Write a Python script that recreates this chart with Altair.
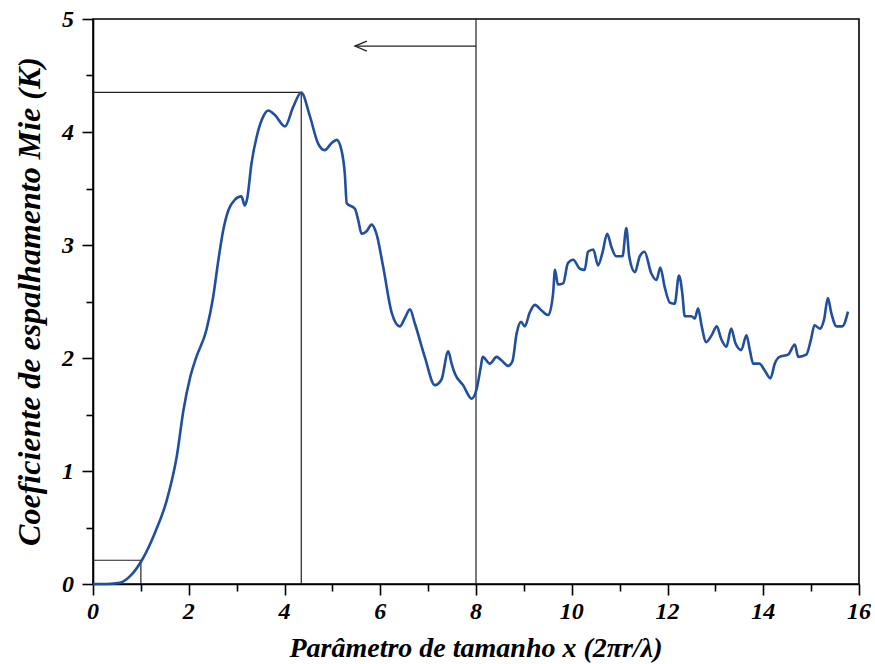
import altair as alt
import pandas as pd

# Curve values
x_vals = [0.0, 0.3, 0.56, 0.8, 1.02, 1.29, 1.54, 1.75, 1.89, 2.03, 2.16, 2.37, 2.51, 2.62,
          2.72, 2.83, 2.96, 3.10, 3.17, 3.22, 3.31, 3.42, 3.56, 3.66, 3.80, 4.01, 4.18, 4.35,
          4.53, 4.70, 4.84, 4.98, 5.09, 5.19, 5.26, 5.30, 5.47, 5.54, 5.61, 5.71, 5.82, 5.92,
          6.06, 6.24, 6.41, 6.51, 6.62, 6.72, 6.93, 7.14, 7.28, 7.42, 7.49, 7.56, 7.73, 7.91,
          8.01, 8.10, 8.14, 8.29, 8.43, 8.53, 8.67, 8.76, 8.85, 8.94, 9.02, 9.12, 9.23, 9.37,
          9.51, 9.61, 9.65, 9.71, 9.82, 9.92, 10.03, 10.17, 10.27, 10.34, 10.45, 10.55, 10.64,
          10.74, 10.83, 10.93, 11.06, 11.14, 11.20, 11.32, 11.42, 11.52, 11.66, 11.77, 11.85,
          11.94, 12.05, 12.15, 12.24, 12.31, 12.36, 12.50, 12.57, 12.64, 12.71, 12.81, 12.92,
          13.03, 13.12, 13.23, 13.33, 13.42, 13.54, 13.65, 13.72, 13.79, 13.92, 14.03, 14.15,
          14.24, 14.34, 14.52, 14.66, 14.73, 14.90, 15.00, 15.07, 15.18, 15.27, 15.35, 15.42,
          15.53, 15.65, 15.77]
k_vals = [0.0, 0.0, 0.01, 0.08, 0.21, 0.45, 0.74, 1.13, 1.54, 1.83, 2.01, 2.25, 2.54, 2.87,
          3.13, 3.31, 3.40, 3.43, 3.35, 3.41, 3.72, 3.96, 4.14, 4.19, 4.15, 4.05, 4.22, 4.35,
          4.14, 3.90, 3.84, 3.90, 3.93, 3.84, 3.63, 3.37, 3.32, 3.22, 3.10, 3.12, 3.18, 3.10,
          2.81, 2.40, 2.28, 2.35, 2.43, 2.31, 2.01, 1.76, 1.81, 2.06, 1.95, 1.86, 1.76, 1.64,
          1.72, 1.92, 2.01, 1.95, 2.01, 1.98, 1.93, 1.97, 2.22, 2.32, 2.28, 2.40, 2.47, 2.42,
          2.38, 2.57, 2.78, 2.65, 2.66, 2.84, 2.87, 2.79, 2.78, 2.94, 2.96, 2.82, 2.93,
          3.10, 2.98, 2.90, 2.90, 3.15, 2.90, 2.76, 2.90, 2.94, 2.75, 2.69, 2.80,
          2.63, 2.49, 2.48, 2.73, 2.57, 2.37, 2.37, 2.35, 2.44, 2.29, 2.14, 2.20,
          2.28, 2.17, 2.10, 2.26, 2.13, 2.07, 2.20, 2.07, 1.95, 1.95, 1.89, 1.82,
          1.95, 2.01, 2.03, 2.12, 2.01, 2.03, 2.17, 2.29, 2.26, 2.34, 2.53, 2.40,
          2.28, 2.28, 2.41]

# Guide lines (segments)
guide_x = [1.0, 0.0, 4.35, 0.0, 8.0]
guide_x2 = [1.0, 1.0, 4.35, 4.35, 8.0]
guide_y = [0.0, 0.21, 0.0, 4.35, 0.0]
guide_y2 = [0.21, 0.21, 4.35, 4.35, 5.0]

# Arrow
arrow_start = [8.0]
arrow_end = [5.47]
arrow_level = [4.76]

# Ticks and labels
x_ticks = list(range(0, 17))
y_ticks = [i * 0.5 for i in range(0, 11)]
x_label_values = [0, 2, 4, 6, 8, 10, 12, 14, 16]
y_label_values = [0, 1, 2, 3, 4, 5]
x_title = ["Parâmetro de tamanho x (2πr/λ)"]
y_title = ["Coeficiente de espalhamento Mie (K)"]

FONT = "Liberation Serif"
W, H = 766, 565

curve_df = pd.DataFrame({"x": x_vals, "k": k_vals})
guide_df = pd.DataFrame({"x": guide_x, "x2": guide_x2, "y": guide_y, "y2": guide_y2})
arrow_df = pd.DataFrame({"x": arrow_start, "x2": arrow_end, "y": arrow_level})
xlab_df = pd.DataFrame({"v": x_label_values, "t": [str(v) for v in x_label_values]})
ylab_df = pd.DataFrame({"v": y_label_values, "t": [str(v) for v in y_label_values]})

x_scale = alt.Scale(domain=[0, 16], nice=False, zero=False)
y_scale = alt.Scale(domain=[0, 5], nice=False, zero=False)

x_axis = alt.Axis(
    values=x_ticks, labels=False, title=None, grid=False,
    tickSize={"condition": {"test": "datum.value % 2 === 0", "value": 11}, "value": 7},
    domainColor="black", domainWidth=1.6, tickColor="black", tickWidth=1.6,
)
y_axis = alt.Axis(
    values=y_ticks, labels=False, title=None, grid=False,
    tickSize={"condition": {"test": "datum.value % 1 === 0", "value": 11}, "value": 7},
    domainColor="black", domainWidth=1.6, tickColor="black", tickWidth=1.6,
)

guides = alt.Chart(guide_df).mark_rule(color="#222222", strokeWidth=1.2).encode(
    x=alt.X("x:Q", scale=x_scale, axis=x_axis),
    x2="x2:Q",
    y=alt.Y("y:Q", scale=y_scale, axis=y_axis),
    y2="y2:Q",
)

arrow_line = alt.Chart(arrow_df).mark_rule(color="#222222", strokeWidth=1.2).encode(
    x=alt.X("x:Q", scale=x_scale, axis=x_axis),
    x2="x2:Q",
    y=alt.Y("y:Q", scale=y_scale, axis=y_axis),
)

arrow_head = alt.Chart(arrow_df).mark_point(
    shape="M1,-0.42L0,0L1,0.42", filled=False, color="#222222", strokeWidth=1.2,
    size=576, opacity=1,
).encode(
    x=alt.X("x2:Q", scale=x_scale, axis=x_axis),
    y=alt.Y("y:Q", scale=y_scale, axis=y_axis),
)

curve = alt.Chart(curve_df).mark_line(
    color="#1f4f9e", strokeWidth=2.6, interpolate="monotone"
).encode(
    x=alt.X("x:Q", scale=x_scale, axis=x_axis),
    y=alt.Y("k:Q", scale=y_scale, axis=y_axis),
)

text_style = dict(font=FONT, fontStyle="italic", fontWeight="bold", color="black")

x_labels = alt.Chart(xlab_df).mark_text(
    fontSize=24, align="center", baseline="alphabetic", **text_style
).encode(
    x=alt.X("v:Q", scale=x_scale, axis=x_axis),
    y=alt.value(H + 35),
    text="t:N",
)

y_labels = alt.Chart(ylab_df).mark_text(
    fontSize=24, align="right", baseline="alphabetic", dy=8, **text_style
).encode(
    x=alt.value(-19),
    y=alt.Y("v:Q", scale=y_scale, axis=y_axis),
    text="t:N",
)

x_title_mark = alt.Chart(pd.DataFrame({"t": x_title})).mark_text(
    fontSize=28, align="center", baseline="alphabetic", **text_style
).encode(
    x=alt.value(W / 2),
    y=alt.value(H + 73),
    text="t:N",
)

y_title_mark = alt.Chart(pd.DataFrame({"t": y_title})).mark_text(
    fontSize=32, align="center", baseline="middle", angle=270, **text_style
).encode(
    x=alt.value(-63),
    y=alt.value(H / 2),
    text="t:N",
)

chart = alt.layer(
    guides, arrow_line, arrow_head, curve, x_labels, y_labels, x_title_mark, y_title_mark
).properties(
    width=W,
    height=H,
    autosize=alt.AutoSizeParams(type="none"),
    padding={"left": 93, "top": 19, "right": 16, "bottom": 80},
    background="white",
).configure_view(
    stroke="black", strokeWidth=1.6,
)

chart.save("out.html", embed_options={"renderer": "svg", "actions": False})
